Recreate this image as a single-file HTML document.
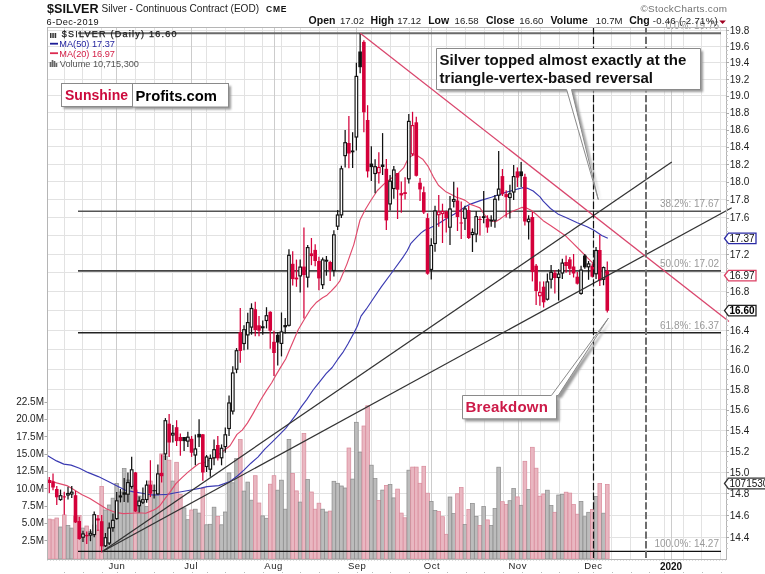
<!DOCTYPE html><html><head><meta charset="utf-8"><style>html,body{margin:0;padding:0;background:#fff;width:765px;height:574px;overflow:hidden}</style></head><body><svg width="765" height="574" viewBox="0 0 765 574" style="display:block;font-family:'Liberation Sans',Arial,sans-serif">
<rect x="0" y="0" width="765" height="574" fill="#fff"/>
<path d="M47 537.50H726M47 515.50H726M47 493.50H726M47 472.50H726M47 451.50H726M47 430.50H726M47 409.50H726M47 389.50H726M47 369.50H726M47 349.50H726M47 330.50H726M47 310.50H726M47 291.50H726M47 272.50H726M47 254.50H726M47 235.50H726M47 217.50H726M47 199.50H726M47 181.50H726M47 164.50H726M47 146.50H726M47 129.50H726M47 112.50H726M47 95.50H726M47 79.50H726M47 62.50H726M47 46.50H726M47 30.50H726M64.50 27V559M82.50 27V559M101.50 27V559M135.50 27V559M154.50 27V559M172.50 27V559M206.50 27V559M225.50 27V559M244.50 27V559M262.50 27V559M281.50 27V559M300.50 27V559M319.50 27V559M337.50 27V559M371.50 27V559M390.50 27V559M409.50 27V559M428.50 27V559M446.50 27V559M465.50 27V559M484.50 27V559M503.50 27V559M521.50 27V559M540.50 27V559M559.50 27V559M578.50 27V559M611.50 27V559M630.50 27V559M664.50 27V559M683.50 27V559M701.50 27V559M720.50 27V559" stroke="#e2e2e2" stroke-width="1" fill="none"/>
<path d="M116.50 27V559M191.50 27V559M274.50 27V559M356.50 27V559M431.50 27V559M518.50 27V559M593.50 27V559M671.50 27V559" stroke="#cccccc" stroke-width="1" fill="none"/>
<g><rect x="47.43" y="519.1" width="3.7" height="39.9" fill="#e9b7c1" stroke="#d98c9c" stroke-width="0.75"/><rect x="51.17" y="519.8" width="3.7" height="39.2" fill="#e9b7c1" stroke="#d98c9c" stroke-width="0.75"/><rect x="54.92" y="518.0" width="3.7" height="41.0" fill="#e9b7c1" stroke="#d98c9c" stroke-width="0.75"/><rect x="58.66" y="527.0" width="3.7" height="32.0" fill="#bcbcbc" stroke="#8e8e8e" stroke-width="0.75"/><rect x="62.41" y="514.9" width="3.7" height="44.1" fill="#e9b7c1" stroke="#d98c9c" stroke-width="0.75"/><rect x="66.16" y="525.4" width="3.7" height="33.6" fill="#bcbcbc" stroke="#8e8e8e" stroke-width="0.75"/><rect x="69.90" y="528.1" width="3.7" height="30.9" fill="#bcbcbc" stroke="#8e8e8e" stroke-width="0.75"/><rect x="73.65" y="516.0" width="3.7" height="43.0" fill="#e9b7c1" stroke="#d98c9c" stroke-width="0.75"/><rect x="77.39" y="515.6" width="3.7" height="43.4" fill="#e9b7c1" stroke="#d98c9c" stroke-width="0.75"/><rect x="81.14" y="528.1" width="3.7" height="30.9" fill="#bcbcbc" stroke="#8e8e8e" stroke-width="0.75"/><rect x="84.88" y="526.0" width="3.7" height="33.0" fill="#e9b7c1" stroke="#d98c9c" stroke-width="0.75"/><rect x="88.62" y="531.6" width="3.7" height="27.4" fill="#bcbcbc" stroke="#8e8e8e" stroke-width="0.75"/><rect x="92.37" y="525.0" width="3.7" height="34.0" fill="#bcbcbc" stroke="#8e8e8e" stroke-width="0.75"/><rect x="96.12" y="530.0" width="3.7" height="29.0" fill="#e9b7c1" stroke="#d98c9c" stroke-width="0.75"/><rect x="99.86" y="486.4" width="3.7" height="72.6" fill="#e9b7c1" stroke="#d98c9c" stroke-width="0.75"/><rect x="103.61" y="510.0" width="3.7" height="49.0" fill="#bcbcbc" stroke="#8e8e8e" stroke-width="0.75"/><rect x="107.35" y="505.0" width="3.7" height="54.0" fill="#bcbcbc" stroke="#8e8e8e" stroke-width="0.75"/><rect x="111.09" y="498.2" width="3.7" height="60.8" fill="#bcbcbc" stroke="#8e8e8e" stroke-width="0.75"/><rect x="114.84" y="483.5" width="3.7" height="75.5" fill="#bcbcbc" stroke="#8e8e8e" stroke-width="0.75"/><rect x="118.59" y="492.0" width="3.7" height="67.0" fill="#bcbcbc" stroke="#8e8e8e" stroke-width="0.75"/><rect x="122.33" y="468.6" width="3.7" height="90.4" fill="#bcbcbc" stroke="#8e8e8e" stroke-width="0.75"/><rect x="126.08" y="480.0" width="3.7" height="79.0" fill="#bcbcbc" stroke="#8e8e8e" stroke-width="0.75"/><rect x="129.82" y="485.0" width="3.7" height="74.0" fill="#bcbcbc" stroke="#8e8e8e" stroke-width="0.75"/><rect x="133.57" y="490.0" width="3.7" height="69.0" fill="#e9b7c1" stroke="#d98c9c" stroke-width="0.75"/><rect x="137.31" y="496.0" width="3.7" height="63.0" fill="#bcbcbc" stroke="#8e8e8e" stroke-width="0.75"/><rect x="141.06" y="501.0" width="3.7" height="58.0" fill="#bcbcbc" stroke="#8e8e8e" stroke-width="0.75"/><rect x="144.80" y="506.5" width="3.7" height="52.5" fill="#bcbcbc" stroke="#8e8e8e" stroke-width="0.75"/><rect x="148.54" y="481.0" width="3.7" height="78.0" fill="#e9b7c1" stroke="#d98c9c" stroke-width="0.75"/><rect x="152.29" y="495.7" width="3.7" height="63.3" fill="#bcbcbc" stroke="#8e8e8e" stroke-width="0.75"/><rect x="156.03" y="485.0" width="3.7" height="74.0" fill="#bcbcbc" stroke="#8e8e8e" stroke-width="0.75"/><rect x="159.78" y="453.9" width="3.7" height="105.1" fill="#e9b7c1" stroke="#d98c9c" stroke-width="0.75"/><rect x="163.53" y="456.0" width="3.7" height="103.0" fill="#bcbcbc" stroke="#8e8e8e" stroke-width="0.75"/><rect x="167.27" y="460.2" width="3.7" height="98.8" fill="#e9b7c1" stroke="#d98c9c" stroke-width="0.75"/><rect x="171.02" y="481.1" width="3.7" height="77.9" fill="#bcbcbc" stroke="#8e8e8e" stroke-width="0.75"/><rect x="174.76" y="462.3" width="3.7" height="96.7" fill="#e9b7c1" stroke="#d98c9c" stroke-width="0.75"/><rect x="178.51" y="494.4" width="3.7" height="64.6" fill="#e9b7c1" stroke="#d98c9c" stroke-width="0.75"/><rect x="182.25" y="507.9" width="3.7" height="51.1" fill="#bcbcbc" stroke="#8e8e8e" stroke-width="0.75"/><rect x="186.00" y="519.7" width="3.7" height="39.3" fill="#bcbcbc" stroke="#8e8e8e" stroke-width="0.75"/><rect x="189.74" y="510.0" width="3.7" height="49.0" fill="#e9b7c1" stroke="#d98c9c" stroke-width="0.75"/><rect x="193.48" y="509.2" width="3.7" height="49.8" fill="#bcbcbc" stroke="#8e8e8e" stroke-width="0.75"/><rect x="197.23" y="513.1" width="3.7" height="45.9" fill="#bcbcbc" stroke="#8e8e8e" stroke-width="0.75"/><rect x="200.97" y="488.4" width="3.7" height="70.6" fill="#e9b7c1" stroke="#d98c9c" stroke-width="0.75"/><rect x="204.72" y="524.8" width="3.7" height="34.2" fill="#bcbcbc" stroke="#8e8e8e" stroke-width="0.75"/><rect x="208.47" y="524.3" width="3.7" height="34.7" fill="#bcbcbc" stroke="#8e8e8e" stroke-width="0.75"/><rect x="212.21" y="507.2" width="3.7" height="51.8" fill="#bcbcbc" stroke="#8e8e8e" stroke-width="0.75"/><rect x="215.96" y="516.5" width="3.7" height="42.5" fill="#e9b7c1" stroke="#d98c9c" stroke-width="0.75"/><rect x="219.70" y="524.8" width="3.7" height="34.2" fill="#bcbcbc" stroke="#8e8e8e" stroke-width="0.75"/><rect x="223.45" y="512.0" width="3.7" height="47.0" fill="#bcbcbc" stroke="#8e8e8e" stroke-width="0.75"/><rect x="227.19" y="472.9" width="3.7" height="86.1" fill="#bcbcbc" stroke="#8e8e8e" stroke-width="0.75"/><rect x="230.94" y="482.8" width="3.7" height="76.2" fill="#bcbcbc" stroke="#8e8e8e" stroke-width="0.75"/><rect x="234.68" y="458.6" width="3.7" height="100.4" fill="#bcbcbc" stroke="#8e8e8e" stroke-width="0.75"/><rect x="238.42" y="439.5" width="3.7" height="119.5" fill="#e9b7c1" stroke="#d98c9c" stroke-width="0.75"/><rect x="242.17" y="491.1" width="3.7" height="67.9" fill="#bcbcbc" stroke="#8e8e8e" stroke-width="0.75"/><rect x="245.91" y="482.1" width="3.7" height="76.9" fill="#bcbcbc" stroke="#8e8e8e" stroke-width="0.75"/><rect x="249.66" y="500.2" width="3.7" height="58.8" fill="#bcbcbc" stroke="#8e8e8e" stroke-width="0.75"/><rect x="253.41" y="475.7" width="3.7" height="83.3" fill="#e9b7c1" stroke="#d98c9c" stroke-width="0.75"/><rect x="257.15" y="503.0" width="3.7" height="56.0" fill="#e9b7c1" stroke="#d98c9c" stroke-width="0.75"/><rect x="260.89" y="515.9" width="3.7" height="43.1" fill="#bcbcbc" stroke="#8e8e8e" stroke-width="0.75"/><rect x="264.64" y="518.3" width="3.7" height="40.7" fill="#bcbcbc" stroke="#8e8e8e" stroke-width="0.75"/><rect x="268.38" y="484.2" width="3.7" height="74.8" fill="#e9b7c1" stroke="#d98c9c" stroke-width="0.75"/><rect x="272.13" y="475.7" width="3.7" height="83.3" fill="#e9b7c1" stroke="#d98c9c" stroke-width="0.75"/><rect x="275.88" y="490.2" width="3.7" height="68.8" fill="#bcbcbc" stroke="#8e8e8e" stroke-width="0.75"/><rect x="279.62" y="480.2" width="3.7" height="78.8" fill="#bcbcbc" stroke="#8e8e8e" stroke-width="0.75"/><rect x="283.37" y="509.2" width="3.7" height="49.8" fill="#bcbcbc" stroke="#8e8e8e" stroke-width="0.75"/><rect x="287.11" y="439.4" width="3.7" height="119.6" fill="#bcbcbc" stroke="#8e8e8e" stroke-width="0.75"/><rect x="290.86" y="473.4" width="3.7" height="85.6" fill="#e9b7c1" stroke="#d98c9c" stroke-width="0.75"/><rect x="294.60" y="490.9" width="3.7" height="68.1" fill="#e9b7c1" stroke="#d98c9c" stroke-width="0.75"/><rect x="298.34" y="502.1" width="3.7" height="56.9" fill="#bcbcbc" stroke="#8e8e8e" stroke-width="0.75"/><rect x="302.09" y="433.4" width="3.7" height="125.6" fill="#e9b7c1" stroke="#d98c9c" stroke-width="0.75"/><rect x="305.83" y="479.4" width="3.7" height="79.6" fill="#bcbcbc" stroke="#8e8e8e" stroke-width="0.75"/><rect x="309.58" y="492.0" width="3.7" height="67.0" fill="#e9b7c1" stroke="#d98c9c" stroke-width="0.75"/><rect x="313.32" y="509.2" width="3.7" height="49.8" fill="#e9b7c1" stroke="#d98c9c" stroke-width="0.75"/><rect x="317.07" y="503.2" width="3.7" height="55.8" fill="#e9b7c1" stroke="#d98c9c" stroke-width="0.75"/><rect x="320.81" y="509.2" width="3.7" height="49.8" fill="#bcbcbc" stroke="#8e8e8e" stroke-width="0.75"/><rect x="324.56" y="512.0" width="3.7" height="47.0" fill="#bcbcbc" stroke="#8e8e8e" stroke-width="0.75"/><rect x="328.31" y="511.1" width="3.7" height="47.9" fill="#e9b7c1" stroke="#d98c9c" stroke-width="0.75"/><rect x="332.05" y="481.3" width="3.7" height="77.7" fill="#bcbcbc" stroke="#8e8e8e" stroke-width="0.75"/><rect x="335.80" y="483.3" width="3.7" height="75.7" fill="#bcbcbc" stroke="#8e8e8e" stroke-width="0.75"/><rect x="339.54" y="486.0" width="3.7" height="73.0" fill="#bcbcbc" stroke="#8e8e8e" stroke-width="0.75"/><rect x="343.29" y="488.0" width="3.7" height="71.0" fill="#bcbcbc" stroke="#8e8e8e" stroke-width="0.75"/><rect x="347.03" y="448.0" width="3.7" height="111.0" fill="#e9b7c1" stroke="#d98c9c" stroke-width="0.75"/><rect x="350.77" y="479.1" width="3.7" height="79.9" fill="#bcbcbc" stroke="#8e8e8e" stroke-width="0.75"/><rect x="354.52" y="422.3" width="3.7" height="136.7" fill="#bcbcbc" stroke="#8e8e8e" stroke-width="0.75"/><rect x="358.26" y="452.2" width="3.7" height="106.8" fill="#bcbcbc" stroke="#8e8e8e" stroke-width="0.75"/><rect x="362.01" y="426.0" width="3.7" height="133.0" fill="#e9b7c1" stroke="#d98c9c" stroke-width="0.75"/><rect x="365.75" y="405.8" width="3.7" height="153.2" fill="#e9b7c1" stroke="#d98c9c" stroke-width="0.75"/><rect x="369.50" y="465.2" width="3.7" height="93.8" fill="#bcbcbc" stroke="#8e8e8e" stroke-width="0.75"/><rect x="373.25" y="478.6" width="3.7" height="80.4" fill="#bcbcbc" stroke="#8e8e8e" stroke-width="0.75"/><rect x="376.99" y="500.6" width="3.7" height="58.4" fill="#e9b7c1" stroke="#d98c9c" stroke-width="0.75"/><rect x="380.74" y="490.1" width="3.7" height="68.9" fill="#bcbcbc" stroke="#8e8e8e" stroke-width="0.75"/><rect x="384.48" y="485.4" width="3.7" height="73.6" fill="#e9b7c1" stroke="#d98c9c" stroke-width="0.75"/><rect x="388.23" y="484.4" width="3.7" height="74.6" fill="#bcbcbc" stroke="#8e8e8e" stroke-width="0.75"/><rect x="391.97" y="497.9" width="3.7" height="61.1" fill="#bcbcbc" stroke="#8e8e8e" stroke-width="0.75"/><rect x="395.71" y="489.1" width="3.7" height="69.9" fill="#e9b7c1" stroke="#d98c9c" stroke-width="0.75"/><rect x="399.46" y="513.1" width="3.7" height="45.9" fill="#e9b7c1" stroke="#d98c9c" stroke-width="0.75"/><rect x="403.20" y="517.8" width="3.7" height="41.2" fill="#e9b7c1" stroke="#d98c9c" stroke-width="0.75"/><rect x="406.95" y="470.2" width="3.7" height="88.8" fill="#bcbcbc" stroke="#8e8e8e" stroke-width="0.75"/><rect x="410.69" y="467.1" width="3.7" height="91.9" fill="#e9b7c1" stroke="#d98c9c" stroke-width="0.75"/><rect x="414.44" y="467.1" width="3.7" height="91.9" fill="#e9b7c1" stroke="#d98c9c" stroke-width="0.75"/><rect x="418.19" y="483.3" width="3.7" height="75.7" fill="#e9b7c1" stroke="#d98c9c" stroke-width="0.75"/><rect x="421.93" y="466.3" width="3.7" height="92.7" fill="#e9b7c1" stroke="#d98c9c" stroke-width="0.75"/><rect x="425.68" y="493.2" width="3.7" height="65.8" fill="#e9b7c1" stroke="#d98c9c" stroke-width="0.75"/><rect x="429.42" y="501.4" width="3.7" height="57.6" fill="#bcbcbc" stroke="#8e8e8e" stroke-width="0.75"/><rect x="433.17" y="510.5" width="3.7" height="48.5" fill="#bcbcbc" stroke="#8e8e8e" stroke-width="0.75"/><rect x="436.91" y="511.5" width="3.7" height="47.5" fill="#e9b7c1" stroke="#d98c9c" stroke-width="0.75"/><rect x="440.65" y="516.7" width="3.7" height="42.3" fill="#e9b7c1" stroke="#d98c9c" stroke-width="0.75"/><rect x="444.40" y="534.3" width="3.7" height="24.7" fill="#e9b7c1" stroke="#d98c9c" stroke-width="0.75"/><rect x="448.14" y="497.0" width="3.7" height="62.0" fill="#bcbcbc" stroke="#8e8e8e" stroke-width="0.75"/><rect x="451.89" y="513.6" width="3.7" height="45.4" fill="#bcbcbc" stroke="#8e8e8e" stroke-width="0.75"/><rect x="455.63" y="493.8" width="3.7" height="65.2" fill="#e9b7c1" stroke="#d98c9c" stroke-width="0.75"/><rect x="459.38" y="487.6" width="3.7" height="71.4" fill="#e9b7c1" stroke="#d98c9c" stroke-width="0.75"/><rect x="463.12" y="524.6" width="3.7" height="34.4" fill="#bcbcbc" stroke="#8e8e8e" stroke-width="0.75"/><rect x="466.87" y="509.5" width="3.7" height="49.5" fill="#e9b7c1" stroke="#d98c9c" stroke-width="0.75"/><rect x="470.62" y="503.4" width="3.7" height="55.6" fill="#bcbcbc" stroke="#8e8e8e" stroke-width="0.75"/><rect x="474.36" y="516.4" width="3.7" height="42.6" fill="#bcbcbc" stroke="#8e8e8e" stroke-width="0.75"/><rect x="478.11" y="525.4" width="3.7" height="33.6" fill="#e9b7c1" stroke="#d98c9c" stroke-width="0.75"/><rect x="481.85" y="506.5" width="3.7" height="52.5" fill="#bcbcbc" stroke="#8e8e8e" stroke-width="0.75"/><rect x="485.60" y="519.9" width="3.7" height="39.1" fill="#e9b7c1" stroke="#d98c9c" stroke-width="0.75"/><rect x="489.34" y="525.4" width="3.7" height="33.6" fill="#bcbcbc" stroke="#8e8e8e" stroke-width="0.75"/><rect x="493.08" y="508.6" width="3.7" height="50.4" fill="#bcbcbc" stroke="#8e8e8e" stroke-width="0.75"/><rect x="496.83" y="467.2" width="3.7" height="91.8" fill="#bcbcbc" stroke="#8e8e8e" stroke-width="0.75"/><rect x="500.57" y="501.7" width="3.7" height="57.3" fill="#e9b7c1" stroke="#d98c9c" stroke-width="0.75"/><rect x="504.32" y="504.4" width="3.7" height="54.6" fill="#e9b7c1" stroke="#d98c9c" stroke-width="0.75"/><rect x="508.06" y="500.7" width="3.7" height="58.3" fill="#bcbcbc" stroke="#8e8e8e" stroke-width="0.75"/><rect x="511.81" y="488.5" width="3.7" height="70.5" fill="#bcbcbc" stroke="#8e8e8e" stroke-width="0.75"/><rect x="515.55" y="496.9" width="3.7" height="62.1" fill="#e9b7c1" stroke="#d98c9c" stroke-width="0.75"/><rect x="519.30" y="505.3" width="3.7" height="53.7" fill="#bcbcbc" stroke="#8e8e8e" stroke-width="0.75"/><rect x="523.04" y="461.3" width="3.7" height="97.7" fill="#e9b7c1" stroke="#d98c9c" stroke-width="0.75"/><rect x="526.79" y="489.6" width="3.7" height="69.4" fill="#bcbcbc" stroke="#8e8e8e" stroke-width="0.75"/><rect x="530.53" y="447.3" width="3.7" height="111.7" fill="#e9b7c1" stroke="#d98c9c" stroke-width="0.75"/><rect x="534.28" y="468.2" width="3.7" height="90.8" fill="#e9b7c1" stroke="#d98c9c" stroke-width="0.75"/><rect x="538.02" y="496.2" width="3.7" height="62.8" fill="#e9b7c1" stroke="#d98c9c" stroke-width="0.75"/><rect x="541.77" y="494.0" width="3.7" height="65.0" fill="#e9b7c1" stroke="#d98c9c" stroke-width="0.75"/><rect x="545.51" y="490.2" width="3.7" height="68.8" fill="#bcbcbc" stroke="#8e8e8e" stroke-width="0.75"/><rect x="549.26" y="505.5" width="3.7" height="53.5" fill="#bcbcbc" stroke="#8e8e8e" stroke-width="0.75"/><rect x="553.00" y="512.3" width="3.7" height="46.7" fill="#e9b7c1" stroke="#d98c9c" stroke-width="0.75"/><rect x="556.75" y="495.0" width="3.7" height="64.0" fill="#bcbcbc" stroke="#8e8e8e" stroke-width="0.75"/><rect x="560.49" y="494.5" width="3.7" height="64.5" fill="#bcbcbc" stroke="#8e8e8e" stroke-width="0.75"/><rect x="564.24" y="492.2" width="3.7" height="66.8" fill="#e9b7c1" stroke="#d98c9c" stroke-width="0.75"/><rect x="567.98" y="493.1" width="3.7" height="65.9" fill="#e9b7c1" stroke="#d98c9c" stroke-width="0.75"/><rect x="571.73" y="504.6" width="3.7" height="54.4" fill="#e9b7c1" stroke="#d98c9c" stroke-width="0.75"/><rect x="575.47" y="514.2" width="3.7" height="44.8" fill="#e9b7c1" stroke="#d98c9c" stroke-width="0.75"/><rect x="579.22" y="501.4" width="3.7" height="57.6" fill="#bcbcbc" stroke="#8e8e8e" stroke-width="0.75"/><rect x="582.96" y="516.7" width="3.7" height="42.3" fill="#bcbcbc" stroke="#8e8e8e" stroke-width="0.75"/><rect x="586.71" y="512.3" width="3.7" height="46.7" fill="#bcbcbc" stroke="#8e8e8e" stroke-width="0.75"/><rect x="590.45" y="509.4" width="3.7" height="49.6" fill="#e9b7c1" stroke="#d98c9c" stroke-width="0.75"/><rect x="594.20" y="496.4" width="3.7" height="62.6" fill="#bcbcbc" stroke="#8e8e8e" stroke-width="0.75"/><rect x="597.94" y="483.5" width="3.7" height="75.5" fill="#e9b7c1" stroke="#d98c9c" stroke-width="0.75"/><rect x="601.69" y="513.2" width="3.7" height="45.8" fill="#bcbcbc" stroke="#8e8e8e" stroke-width="0.75"/><rect x="605.43" y="484.5" width="3.7" height="74.5" fill="#e9b7c1" stroke="#d98c9c" stroke-width="0.75"/></g>
<path d="M78 33.2H721" stroke="#6a6a6a" stroke-width="2"/>
<path d="M78 211.2H721" stroke="#555" stroke-width="1.6"/>
<path d="M78 270.9H721" stroke="#444" stroke-width="1.6"/>
<path d="M78 332.8H721" stroke="#222" stroke-width="1.4"/>
<path d="M78 551.4H721" stroke="#111" stroke-width="1.3"/>
<text x="719" y="29.2" text-anchor="end" font-size="10" fill="#9a9a9a">0.0%: 19.76</text>
<text x="719" y="207.2" text-anchor="end" font-size="10" fill="#9a9a9a">38.2%: 17.67</text>
<text x="719" y="266.9" text-anchor="end" font-size="10" fill="#9a9a9a">50.0%: 17.02</text>
<text x="719" y="328.8" text-anchor="end" font-size="10" fill="#9a9a9a">61.8%: 16.37</text>
<text x="719" y="547.4" text-anchor="end" font-size="10" fill="#9a9a9a">100.0%: 14.27</text>
<path d="M47.7 455.7 L56.5 460.9 L63.8 464.1 L71.1 465.1 L79.5 468.2 L87.8 472.4 L98.3 476.6 L108.8 481.8 L117.1 486.0 L125.5 490.2 L133.9 491.9 L142.2 493.3 L150.6 494.8 L159.0 494.8 L167.3 494.4 L175.7 492.7 L184.1 491.3 L192.4 489.8 L200.8 488.1 L207.1 486.6 L218.8 485.6 L230.0 481.5 L237.0 476.2 L243.9 470.1 L250.9 463.2 L257.9 457.1 L264.8 449.2 L271.8 442.3 L278.8 435.3 L285.7 428.3 L291.0 421.4 L296.2 414.4 L301.4 406.6 L306.7 399.6 L313.1 390.0 L319.2 382.3 L326.1 373.6 L332.2 367.5 L337.5 359.7 L342.7 352.7 L347.9 344.0 L354.0 332.7 L357.5 325.7 L361.0 316.1 L366.2 309.2 L373.2 298.7 L381.3 286.9 L393.0 271.0 L403.6 256.3 L407.2 250.7 L410.7 243.7 L414.2 239.8 L417.6 236.3 L421.1 232.9 L424.6 230.2 L429.8 228.1 L435.1 225.5 L440.3 222.4 L445.0 219.4 L449.5 216.8 L454.1 214.3 L460.0 210.4 L465.2 206.8 L470.5 204.1 L480.9 200.4 L491.4 197.3 L501.8 193.6 L512.3 190.5 L522.8 187.6 L528.0 188.4 L533.2 191.0 L540.0 196.9 L543.2 201.2 L550.5 208.5 L557.8 213.9 L567.6 218.3 L577.3 222.7 L587.1 226.8 L594.4 230.5 L601.7 235.4 L607.8 238.3" stroke="#3a3ab2" stroke-width="1.15" fill="none" stroke-linejoin="round"/>
<path d="M47.7 479.7 L56.5 482.9 L66.9 485.6 L73.2 489.2 L81.6 494.4 L89.9 498.6 L98.3 503.8 L106.7 509.0 L115.0 512.2 L123.4 513.6 L131.8 513.2 L138.0 512.8 L145.8 513.2 L152.8 510.4 L156.5 508.5 L160.0 505.5 L163.7 500.3 L169.8 492.3 L175.9 483.7 L182.0 477.6 L188.0 472.1 L194.1 467.2 L199.0 463.5 L204.4 462.6 L212.7 458.4 L221.1 452.8 L230.0 445.7 L237.0 434.4 L242.2 430.1 L247.4 423.1 L252.6 414.4 L260.6 400.0 L266.1 391.1 L271.7 382.7 L275.2 376.4 L280.1 368.1 L285.7 359.0 L289.8 349.3 L294.0 339.5 L298.2 329.8 L303.8 320.3 L310.5 309.2 L316.6 302.2 L322.6 297.8 L327.0 295.2 L331.4 290.9 L336.0 286.0 L339.9 280.8 L346.9 264.1 L353.8 244.6 L360.0 220.0 L365.2 209.7 L370.5 201.0 L377.4 190.5 L384.4 183.6 L391.4 178.3 L398.3 173.1 L403.6 167.9 L407.0 160.9 L410.5 156.6 L414.0 154.8 L417.5 155.7 L422.7 159.2 L427.9 166.1 L433.2 176.6 L438.4 185.3 L445.4 191.4 L452.3 194.9 L456.5 197.3 L460.0 198.3 L465.2 200.4 L470.5 204.4 L475.7 206.2 L479.9 207.9 L484.1 214.3 L488.2 218.7 L492.4 221.3 L495.6 221.8 L499.7 219.2 L503.9 216.1 L508.1 213.5 L512.3 211.4 L517.5 209.3 L521.7 207.4 L525.9 207.7 L531.1 210.3 L536.4 214.5 L543.2 220.7 L550.5 225.6 L557.8 230.5 L565.1 235.4 L572.4 242.7 L579.8 250.0 L587.1 257.3 L594.4 264.6 L601.7 270.7 L607.8 273.2" stroke="#e04a6c" stroke-width="1.15" fill="none" stroke-linejoin="round"/>
<g><path d="M49.28 477.0V493.0" stroke="#d4003a" stroke-width="1.25"/><rect x="47.48" y="480.0" width="3.6" height="3.0" fill="#d4003a"/><path d="M53.02 473.6V490.3" stroke="#d4003a" stroke-width="1.25"/><rect x="51.23" y="481.5" width="3.6" height="6.0" fill="#d4003a"/><path d="M56.77 486.0V505.0" stroke="#d4003a" stroke-width="1.25"/><rect x="54.97" y="489.0" width="3.6" height="8.3" fill="#d4003a"/><path d="M60.52 489.6V500.8" stroke="#111" stroke-width="1.25"/><rect x="59.22" y="495.7" width="2.6" height="3.8" fill="#fff" stroke="#111" stroke-width="1.15"/><path d="M64.26 491.7V514.7" stroke="#d4003a" stroke-width="1.25"/><rect x="62.46" y="496.4" width="3.6" height="1.0" fill="#d4003a"/><path d="M68.00 486.8V499.4" stroke="#111" stroke-width="1.25"/><rect x="66.70" y="493.5" width="2.6" height="1.5" fill="#fff" stroke="#111" stroke-width="1.15"/><path d="M71.75 486.0V498.0" stroke="#111" stroke-width="1.25"/><rect x="70.45" y="492.2" width="2.6" height="1.8" fill="#fff" stroke="#111" stroke-width="1.15"/><path d="M75.50 491.0V523.0" stroke="#d4003a" stroke-width="1.25"/><rect x="73.70" y="495.2" width="3.6" height="27.2" fill="#d4003a"/><path d="M79.24 516.8V539.8" stroke="#d4003a" stroke-width="1.25"/><rect x="77.44" y="521.0" width="3.6" height="18.0" fill="#d4003a"/><path d="M82.98 530.7V541.9" stroke="#111" stroke-width="1.25"/><rect x="81.69" y="534.0" width="2.6" height="3.2" fill="#fff" stroke="#111" stroke-width="1.15"/><path d="M86.73 531.4V544.0" stroke="#d4003a" stroke-width="1.25"/><rect x="84.93" y="534.9" width="3.6" height="1.4" fill="#d4003a"/><path d="M90.47 529.3V541.2" stroke="#111" stroke-width="1.25"/><rect x="89.17" y="533.3" width="2.6" height="1.8" fill="#fff" stroke="#111" stroke-width="1.15"/><path d="M94.22 511.4V537.2" stroke="#111" stroke-width="1.25"/><rect x="92.92" y="514.7" width="2.6" height="19.9" fill="#fff" stroke="#111" stroke-width="1.15"/><path d="M97.97 515.0V531.0" stroke="#d4003a" stroke-width="1.25"/><rect x="96.17" y="518.4" width="3.6" height="2.1" fill="#d4003a"/><path d="M101.71 515.0V552.6" stroke="#d4003a" stroke-width="1.25"/><rect x="99.91" y="521.2" width="3.6" height="25.1" fill="#d4003a"/><path d="M105.45 533.0V547.0" stroke="#111" stroke-width="1.25"/><rect x="104.16" y="537.7" width="2.6" height="8.1" fill="#fff" stroke="#111" stroke-width="1.15"/><path d="M109.20 522.6V545.0" stroke="#111" stroke-width="1.25"/><rect x="107.90" y="528.0" width="2.6" height="15.0" fill="#fff" stroke="#111" stroke-width="1.15"/><path d="M112.94 513.5V531.7" stroke="#111" stroke-width="1.25"/><rect x="111.64" y="520.3" width="2.6" height="7.4" fill="#fff" stroke="#111" stroke-width="1.15"/><path d="M116.69 492.0V519.8" stroke="#111" stroke-width="1.25"/><rect x="115.39" y="500.8" width="2.6" height="17.8" fill="#fff" stroke="#111" stroke-width="1.15"/><path d="M120.44 489.0V502.4" stroke="#111" stroke-width="1.25"/><rect x="118.64" y="495.4" width="3.6" height="2.1" fill="#111"/><path d="M124.18 478.0V502.0" stroke="#111" stroke-width="1.25"/><rect x="122.38" y="492.3" width="3.6" height="2.4" fill="#111"/><path d="M127.92 472.4V502.4" stroke="#111" stroke-width="1.25"/><rect x="126.62" y="482.6" width="2.6" height="11.6" fill="#fff" stroke="#111" stroke-width="1.15"/><path d="M131.67 456.7V488.8" stroke="#111" stroke-width="1.25"/><rect x="130.37" y="469.8" width="2.6" height="16.7" fill="#fff" stroke="#111" stroke-width="1.15"/><path d="M135.42 472.0V512.0" stroke="#d4003a" stroke-width="1.25"/><rect x="133.62" y="472.4" width="3.6" height="39.1" fill="#d4003a"/><path d="M139.16 496.4V512.5" stroke="#111" stroke-width="1.25"/><rect x="137.86" y="501.1" width="2.6" height="4.6" fill="#fff" stroke="#111" stroke-width="1.15"/><path d="M142.91 487.4V504.0" stroke="#111" stroke-width="1.25"/><rect x="141.60" y="499.7" width="2.6" height="2.5" fill="#fff" stroke="#111" stroke-width="1.15"/><path d="M146.65 480.4V502.7" stroke="#111" stroke-width="1.25"/><rect x="145.35" y="485.1" width="2.6" height="14.4" fill="#fff" stroke="#111" stroke-width="1.15"/><path d="M150.39 460.2V497.1" stroke="#d4003a" stroke-width="1.25"/><rect x="148.59" y="484.6" width="3.6" height="9.1" fill="#d4003a"/><path d="M154.14 484.6V498.5" stroke="#111" stroke-width="1.25"/><rect x="152.34" y="490.2" width="3.6" height="1.0" fill="#111"/><path d="M157.88 464.4V494.4" stroke="#111" stroke-width="1.25"/><rect x="156.58" y="473.9" width="2.6" height="20.0" fill="#fff" stroke="#111" stroke-width="1.15"/><path d="M161.63 454.6V482.5" stroke="#d4003a" stroke-width="1.25"/><rect x="159.83" y="472.8" width="3.6" height="3.4" fill="#d4003a"/><path d="M165.38 418.1V460.0" stroke="#111" stroke-width="1.25"/><rect x="164.07" y="420.7" width="2.6" height="33.2" fill="#fff" stroke="#111" stroke-width="1.15"/><path d="M169.12 414.0V457.0" stroke="#d4003a" stroke-width="1.25"/><rect x="167.32" y="423.7" width="3.6" height="18.8" fill="#d4003a"/><path d="M172.87 425.0V442.5" stroke="#111" stroke-width="1.25"/><rect x="171.56" y="433.3" width="2.6" height="1.7" fill="#fff" stroke="#111" stroke-width="1.15"/><path d="M176.61 420.2V446.0" stroke="#d4003a" stroke-width="1.25"/><rect x="174.81" y="427.2" width="3.6" height="13.9" fill="#d4003a"/><path d="M180.36 433.4V455.7" stroke="#d4003a" stroke-width="1.25"/><rect x="178.56" y="437.0" width="3.6" height="4.1" fill="#d4003a"/><path d="M184.10 437.0V450.9" stroke="#111" stroke-width="1.25"/><rect x="182.30" y="437.0" width="3.6" height="4.1" fill="#111"/><path d="M187.85 431.8V447.1" stroke="#111" stroke-width="1.25"/><rect x="186.55" y="437.2" width="2.6" height="3.9" fill="#fff" stroke="#111" stroke-width="1.15"/><path d="M191.59 436.0V456.9" stroke="#d4003a" stroke-width="1.25"/><rect x="189.79" y="438.8" width="3.6" height="13.9" fill="#d4003a"/><path d="M195.33 434.6V465.3" stroke="#111" stroke-width="1.25"/><rect x="194.03" y="449.0" width="2.6" height="6.0" fill="#fff" stroke="#111" stroke-width="1.15"/><path d="M199.08 419.3V447.1" stroke="#111" stroke-width="1.25"/><rect x="197.28" y="433.9" width="3.6" height="3.5" fill="#111"/><path d="M202.82 434.0V480.8" stroke="#d4003a" stroke-width="1.25"/><rect x="201.02" y="434.3" width="3.6" height="38.2" fill="#d4003a"/><path d="M206.57 455.0V472.0" stroke="#111" stroke-width="1.25"/><rect x="205.27" y="457.0" width="2.6" height="9.5" fill="#fff" stroke="#111" stroke-width="1.15"/><path d="M210.31 454.4V476.7" stroke="#111" stroke-width="1.25"/><rect x="209.01" y="458.4" width="2.6" height="10.8" fill="#fff" stroke="#111" stroke-width="1.15"/><path d="M214.06 439.5V465.3" stroke="#111" stroke-width="1.25"/><rect x="212.76" y="449.7" width="2.6" height="8.1" fill="#fff" stroke="#111" stroke-width="1.15"/><path d="M217.81 436.0V460.4" stroke="#d4003a" stroke-width="1.25"/><rect x="216.00" y="445.0" width="3.6" height="13.3" fill="#d4003a"/><path d="M221.55 444.4V465.3" stroke="#111" stroke-width="1.25"/><rect x="220.25" y="448.3" width="2.6" height="9.5" fill="#fff" stroke="#111" stroke-width="1.15"/><path d="M225.30 427.6V452.7" stroke="#111" stroke-width="1.25"/><rect x="224.00" y="434.8" width="2.6" height="11.8" fill="#fff" stroke="#111" stroke-width="1.15"/><path d="M229.04 395.6V436.0" stroke="#111" stroke-width="1.25"/><rect x="227.74" y="403.0" width="2.6" height="25.5" fill="#fff" stroke="#111" stroke-width="1.15"/><path d="M232.79 366.2V414.4" stroke="#111" stroke-width="1.25"/><rect x="231.49" y="373.0" width="2.6" height="38.1" fill="#fff" stroke="#111" stroke-width="1.15"/><path d="M236.53 348.1V373.2" stroke="#111" stroke-width="1.25"/><rect x="235.23" y="350.7" width="2.6" height="18.5" fill="#fff" stroke="#111" stroke-width="1.15"/><path d="M240.27 308.0V362.8" stroke="#d4003a" stroke-width="1.25"/><rect x="238.47" y="332.3" width="3.6" height="18.6" fill="#d4003a"/><path d="M244.02 325.3V350.2" stroke="#111" stroke-width="1.25"/><rect x="242.72" y="329.7" width="2.6" height="13.8" fill="#fff" stroke="#111" stroke-width="1.15"/><path d="M247.76 312.7V349.5" stroke="#111" stroke-width="1.25"/><rect x="246.46" y="322.6" width="2.6" height="12.3" fill="#fff" stroke="#111" stroke-width="1.15"/><path d="M251.51 303.3V334.7" stroke="#111" stroke-width="1.25"/><rect x="250.21" y="308.5" width="2.6" height="18.6" fill="#fff" stroke="#111" stroke-width="1.15"/><path d="M255.25 301.7V336.2" stroke="#d4003a" stroke-width="1.25"/><rect x="253.45" y="309.3" width="3.6" height="20.7" fill="#d4003a"/><path d="M259.00 315.9V336.2" stroke="#d4003a" stroke-width="1.25"/><rect x="257.20" y="325.3" width="3.6" height="5.4" fill="#d4003a"/><path d="M262.75 320.6V334.7" stroke="#111" stroke-width="1.25"/><rect x="261.44" y="326.8" width="2.6" height="0.9" fill="#fff" stroke="#111" stroke-width="1.15"/><path d="M266.49 307.2V328.4" stroke="#111" stroke-width="1.25"/><rect x="265.19" y="315.7" width="2.6" height="4.8" fill="#fff" stroke="#111" stroke-width="1.15"/><path d="M270.24 311.2V348.8" stroke="#d4003a" stroke-width="1.25"/><rect x="268.44" y="311.8" width="3.6" height="18.9" fill="#d4003a"/><path d="M273.98 330.7V376.0" stroke="#d4003a" stroke-width="1.25"/><rect x="272.18" y="341.8" width="3.6" height="11.2" fill="#d4003a"/><path d="M277.73 332.0V365.5" stroke="#111" stroke-width="1.25"/><rect x="275.93" y="334.8" width="3.6" height="7.7" fill="#111"/><path d="M281.47 312.5V356.4" stroke="#111" stroke-width="1.25"/><rect x="280.17" y="331.9" width="2.6" height="11.5" fill="#fff" stroke="#111" stroke-width="1.15"/><path d="M285.22 318.1V333.4" stroke="#111" stroke-width="1.25"/><rect x="283.92" y="325.6" width="2.6" height="1.1" fill="#fff" stroke="#111" stroke-width="1.15"/><path d="M288.96 249.2V326.5" stroke="#111" stroke-width="1.25"/><rect x="287.66" y="255.3" width="2.6" height="70.0" fill="#fff" stroke="#111" stroke-width="1.15"/><path d="M292.71 251.3V285.4" stroke="#d4003a" stroke-width="1.25"/><rect x="290.91" y="263.8" width="3.6" height="15.3" fill="#d4003a"/><path d="M296.45 259.6V286.8" stroke="#d4003a" stroke-width="1.25"/><rect x="294.65" y="277.6" width="3.6" height="1.8" fill="#d4003a"/><path d="M300.19 259.6V292.4" stroke="#111" stroke-width="1.25"/><rect x="298.89" y="267.1" width="2.6" height="8.8" fill="#fff" stroke="#111" stroke-width="1.15"/><path d="M303.94 227.6V318.5" stroke="#d4003a" stroke-width="1.25"/><rect x="302.14" y="266.6" width="3.6" height="8.4" fill="#d4003a"/><path d="M307.69 245.0V287.5" stroke="#111" stroke-width="1.25"/><rect x="306.38" y="247.6" width="2.6" height="29.6" fill="#fff" stroke="#111" stroke-width="1.15"/><path d="M311.43 238.0V265.2" stroke="#d4003a" stroke-width="1.25"/><rect x="309.63" y="253.4" width="3.6" height="2.7" fill="#d4003a"/><path d="M315.18 244.3V266.3" stroke="#d4003a" stroke-width="1.25"/><rect x="313.38" y="249.9" width="3.6" height="11.1" fill="#d4003a"/><path d="M318.92 256.8V290.3" stroke="#d4003a" stroke-width="1.25"/><rect x="317.12" y="261.0" width="3.6" height="17.4" fill="#d4003a"/><path d="M322.67 257.6V289.0" stroke="#111" stroke-width="1.25"/><rect x="321.37" y="259.9" width="2.6" height="24.8" fill="#fff" stroke="#111" stroke-width="1.15"/><path d="M326.41 256.0V275.7" stroke="#111" stroke-width="1.25"/><rect x="325.11" y="260.3" width="2.6" height="0.8" fill="#fff" stroke="#111" stroke-width="1.15"/><path d="M330.16 260.8V281.1" stroke="#d4003a" stroke-width="1.25"/><rect x="328.36" y="262.0" width="3.6" height="7.9" fill="#d4003a"/><path d="M333.90 230.2V276.4" stroke="#111" stroke-width="1.25"/><rect x="332.60" y="234.9" width="2.6" height="35.6" fill="#fff" stroke="#111" stroke-width="1.15"/><path d="M337.65 210.0V230.0" stroke="#111" stroke-width="1.25"/><rect x="336.35" y="215.0" width="2.6" height="11.2" fill="#fff" stroke="#111" stroke-width="1.15"/><path d="M341.39 165.7V218.0" stroke="#111" stroke-width="1.25"/><rect x="340.09" y="168.8" width="2.6" height="46.1" fill="#fff" stroke="#111" stroke-width="1.15"/><path d="M345.14 130.0V167.5" stroke="#111" stroke-width="1.25"/><rect x="343.84" y="142.7" width="2.6" height="12.9" fill="#fff" stroke="#111" stroke-width="1.15"/><path d="M348.88 116.0V168.3" stroke="#d4003a" stroke-width="1.25"/><rect x="347.08" y="143.0" width="3.6" height="10.5" fill="#d4003a"/><path d="M352.62 132.2V168.0" stroke="#111" stroke-width="1.25"/><rect x="350.82" y="150.5" width="3.6" height="1.8" fill="#111"/><path d="M356.37 62.8V150.5" stroke="#111" stroke-width="1.25"/><rect x="355.07" y="76.4" width="2.6" height="60.6" fill="#fff" stroke="#111" stroke-width="1.15"/><path d="M360.12 33.2V73.3" stroke="#111" stroke-width="1.25"/><rect x="358.31" y="51.5" width="3.6" height="15.7" fill="#111"/><path d="M363.86 40.2V132.2" stroke="#d4003a" stroke-width="1.25"/><rect x="362.06" y="41.9" width="3.6" height="70.4" fill="#d4003a"/><path d="M367.61 105.2V177.5" stroke="#d4003a" stroke-width="1.25"/><rect x="365.81" y="120.0" width="3.6" height="51.4" fill="#d4003a"/><path d="M371.35 146.2V181.0" stroke="#111" stroke-width="1.25"/><rect x="369.55" y="163.6" width="3.6" height="3.5" fill="#111"/><path d="M375.10 159.2V193.2" stroke="#111" stroke-width="1.25"/><rect x="373.80" y="166.7" width="2.6" height="6.8" fill="#fff" stroke="#111" stroke-width="1.15"/><path d="M378.84 152.3V183.6" stroke="#d4003a" stroke-width="1.25"/><rect x="377.54" y="167.5" width="2.6" height="5.2" fill="#fff" stroke="#d4003a" stroke-width="1.15"/><path d="M382.59 133.1V175.0" stroke="#111" stroke-width="1.25"/><rect x="380.79" y="164.5" width="3.6" height="2.5" fill="#111"/><path d="M386.33 159.0V230.0" stroke="#d4003a" stroke-width="1.25"/><rect x="384.53" y="168.8" width="3.6" height="51.6" fill="#d4003a"/><path d="M390.08 175.0V210.6" stroke="#111" stroke-width="1.25"/><rect x="388.78" y="181.2" width="2.6" height="22.7" fill="#fff" stroke="#111" stroke-width="1.15"/><path d="M393.82 166.0V198.8" stroke="#111" stroke-width="1.25"/><rect x="392.52" y="170.0" width="2.6" height="18.5" fill="#fff" stroke="#111" stroke-width="1.15"/><path d="M397.56 173.0V219.0" stroke="#d4003a" stroke-width="1.25"/><rect x="395.76" y="173.0" width="3.6" height="16.7" fill="#d4003a"/><path d="M401.31 181.4V212.7" stroke="#d4003a" stroke-width="1.25"/><rect x="400.01" y="193.7" width="2.6" height="1.1" fill="#fff" stroke="#d4003a" stroke-width="1.15"/><path d="M405.06 177.2V199.5" stroke="#d4003a" stroke-width="1.25"/><rect x="403.25" y="192.2" width="3.6" height="1.8" fill="#d4003a"/><path d="M408.80 113.9V183.4" stroke="#111" stroke-width="1.25"/><rect x="407.50" y="121.4" width="2.6" height="57.4" fill="#fff" stroke="#111" stroke-width="1.15"/><path d="M412.55 111.8V156.0" stroke="#d4003a" stroke-width="1.25"/><rect x="411.25" y="125.6" width="2.6" height="28.3" fill="#fff" stroke="#d4003a" stroke-width="1.15"/><path d="M416.29 116.7V176.5" stroke="#d4003a" stroke-width="1.25"/><rect x="414.49" y="122.3" width="3.6" height="53.5" fill="#d4003a"/><path d="M420.04 177.9V200.9" stroke="#d4003a" stroke-width="1.25"/><rect x="418.24" y="182.7" width="3.6" height="6.7" fill="#d4003a"/><path d="M423.78 186.5V214.0" stroke="#d4003a" stroke-width="1.25"/><rect x="421.98" y="192.2" width="3.6" height="20.2" fill="#d4003a"/><path d="M427.53 213.3V274.7" stroke="#d4003a" stroke-width="1.25"/><rect x="425.73" y="218.1" width="3.6" height="55.6" fill="#d4003a"/><path d="M431.27 238.2V279.4" stroke="#111" stroke-width="1.25"/><rect x="429.97" y="245.5" width="2.6" height="23.9" fill="#fff" stroke="#111" stroke-width="1.15"/><path d="M435.02 205.7V251.7" stroke="#111" stroke-width="1.25"/><rect x="433.72" y="211.0" width="2.6" height="32.5" fill="#fff" stroke="#111" stroke-width="1.15"/><path d="M438.76 195.0V226.7" stroke="#d4003a" stroke-width="1.25"/><rect x="437.46" y="211.9" width="2.6" height="2.8" fill="#fff" stroke="#d4003a" stroke-width="1.15"/><path d="M442.50 203.7V243.0" stroke="#d4003a" stroke-width="1.25"/><rect x="441.20" y="211.5" width="2.6" height="2.0" fill="#fff" stroke="#d4003a" stroke-width="1.15"/><path d="M446.25 210.5V232.5" stroke="#d4003a" stroke-width="1.25"/><rect x="444.45" y="211.4" width="3.6" height="6.7" fill="#d4003a"/><path d="M450.00 196.0V245.0" stroke="#111" stroke-width="1.25"/><rect x="448.69" y="209.0" width="2.6" height="18.2" fill="#fff" stroke="#111" stroke-width="1.15"/><path d="M453.74 181.7V207.6" stroke="#111" stroke-width="1.25"/><rect x="452.44" y="199.5" width="2.6" height="1.8" fill="#fff" stroke="#111" stroke-width="1.15"/><path d="M457.49 187.5V231.0" stroke="#d4003a" stroke-width="1.25"/><rect x="455.69" y="200.5" width="3.6" height="16.5" fill="#d4003a"/><path d="M461.23 201.4V238.9" stroke="#d4003a" stroke-width="1.25"/><rect x="459.43" y="222.5" width="3.6" height="1.0" fill="#d4003a"/><path d="M464.98 205.7V230.0" stroke="#111" stroke-width="1.25"/><rect x="463.68" y="208.9" width="2.6" height="9.4" fill="#fff" stroke="#111" stroke-width="1.15"/><path d="M468.72 205.7V238.9" stroke="#d4003a" stroke-width="1.25"/><rect x="466.92" y="210.1" width="3.6" height="27.9" fill="#d4003a"/><path d="M472.47 228.4V252.0" stroke="#111" stroke-width="1.25"/><rect x="471.17" y="232.5" width="2.6" height="2.0" fill="#fff" stroke="#111" stroke-width="1.15"/><path d="M476.21 211.0V242.3" stroke="#111" stroke-width="1.25"/><rect x="474.91" y="216.7" width="2.6" height="17.3" fill="#fff" stroke="#111" stroke-width="1.15"/><path d="M479.96 216.2V235.4" stroke="#d4003a" stroke-width="1.25"/><rect x="478.16" y="219.0" width="3.6" height="1.0" fill="#d4003a"/><path d="M483.70 191.0V223.2" stroke="#111" stroke-width="1.25"/><rect x="481.90" y="216.2" width="3.6" height="1.8" fill="#111"/><path d="M487.45 215.3V232.8" stroke="#d4003a" stroke-width="1.25"/><rect x="485.65" y="218.8" width="3.6" height="8.7" fill="#d4003a"/><path d="M491.19 215.3V226.7" stroke="#111" stroke-width="1.25"/><rect x="489.89" y="220.2" width="2.6" height="0.7" fill="#fff" stroke="#111" stroke-width="1.15"/><path d="M494.94 194.9V227.8" stroke="#111" stroke-width="1.25"/><rect x="493.63" y="199.3" width="2.6" height="20.9" fill="#fff" stroke="#111" stroke-width="1.15"/><path d="M498.68 151.0V200.4" stroke="#111" stroke-width="1.25"/><rect x="497.38" y="189.1" width="2.6" height="6.1" fill="#fff" stroke="#111" stroke-width="1.15"/><path d="M502.43 169.0V196.0" stroke="#d4003a" stroke-width="1.25"/><rect x="500.62" y="176.1" width="3.6" height="18.0" fill="#d4003a"/><path d="M506.17 190.2V217.6" stroke="#d4003a" stroke-width="1.25"/><rect x="504.37" y="194.1" width="3.6" height="3.1" fill="#d4003a"/><path d="M509.92 184.7V218.4" stroke="#111" stroke-width="1.25"/><rect x="508.62" y="193.8" width="2.6" height="3.7" fill="#fff" stroke="#111" stroke-width="1.15"/><path d="M513.66 165.1V200.0" stroke="#111" stroke-width="1.25"/><rect x="512.36" y="176.6" width="2.6" height="15.4" fill="#fff" stroke="#111" stroke-width="1.15"/><path d="M517.40 167.4V187.0" stroke="#d4003a" stroke-width="1.25"/><rect x="515.61" y="171.4" width="3.6" height="6.2" fill="#d4003a"/><path d="M521.15 162.0V187.0" stroke="#111" stroke-width="1.25"/><rect x="519.35" y="171.4" width="3.6" height="4.7" fill="#111"/><path d="M524.89 173.7V225.4" stroke="#d4003a" stroke-width="1.25"/><rect x="523.10" y="176.8" width="3.6" height="44.7" fill="#d4003a"/><path d="M528.64 215.2V239.6" stroke="#111" stroke-width="1.25"/><rect x="527.34" y="219.2" width="2.6" height="2.5" fill="#fff" stroke="#111" stroke-width="1.15"/><path d="M532.38 211.7V281.4" stroke="#d4003a" stroke-width="1.25"/><rect x="530.59" y="217.0" width="3.6" height="54.8" fill="#d4003a"/><path d="M536.13 264.0V305.0" stroke="#d4003a" stroke-width="1.25"/><rect x="534.33" y="265.7" width="3.6" height="25.3" fill="#d4003a"/><path d="M539.88 281.4V305.8" stroke="#d4003a" stroke-width="1.25"/><rect x="538.58" y="292.4" width="2.6" height="3.3" fill="#fff" stroke="#d4003a" stroke-width="1.15"/><path d="M543.62 281.4V307.6" stroke="#d4003a" stroke-width="1.25"/><rect x="541.82" y="286.7" width="3.6" height="15.6" fill="#d4003a"/><path d="M547.37 273.6V300.6" stroke="#111" stroke-width="1.25"/><rect x="546.07" y="281.9" width="2.6" height="17.3" fill="#fff" stroke="#111" stroke-width="1.15"/><path d="M551.11 264.9V288.4" stroke="#111" stroke-width="1.25"/><rect x="549.81" y="272.3" width="2.6" height="6.9" fill="#fff" stroke="#111" stroke-width="1.15"/><path d="M554.86 270.1V293.6" stroke="#d4003a" stroke-width="1.25"/><rect x="553.06" y="272.7" width="3.6" height="5.3" fill="#d4003a"/><path d="M558.60 269.2V300.6" stroke="#111" stroke-width="1.25"/><rect x="557.30" y="274.1" width="2.6" height="3.4" fill="#fff" stroke="#111" stroke-width="1.15"/><path d="M562.34 258.7V279.0" stroke="#111" stroke-width="1.25"/><rect x="561.04" y="263.1" width="2.6" height="9.9" fill="#fff" stroke="#111" stroke-width="1.15"/><path d="M566.09 255.5V272.8" stroke="#d4003a" stroke-width="1.25"/><rect x="564.29" y="262.0" width="3.6" height="4.0" fill="#d4003a"/><path d="M569.83 257.0V275.0" stroke="#d4003a" stroke-width="1.25"/><rect x="568.03" y="259.4" width="3.6" height="9.4" fill="#d4003a"/><path d="M573.58 254.0V277.5" stroke="#d4003a" stroke-width="1.25"/><rect x="571.78" y="266.5" width="3.6" height="7.0" fill="#d4003a"/><path d="M577.32 272.0V284.5" stroke="#d4003a" stroke-width="1.25"/><rect x="575.52" y="276.7" width="3.6" height="7.0" fill="#d4003a"/><path d="M581.07 265.7V294.7" stroke="#111" stroke-width="1.25"/><rect x="579.77" y="270.1" width="2.6" height="23.3" fill="#fff" stroke="#111" stroke-width="1.15"/><path d="M584.81 254.0V268.8" stroke="#111" stroke-width="1.25"/><rect x="583.01" y="255.5" width="3.6" height="11.8" fill="#111"/><path d="M588.56 261.0V279.8" stroke="#111" stroke-width="1.25"/><rect x="587.26" y="263.9" width="2.6" height="2.9" fill="#fff" stroke="#111" stroke-width="1.15"/><path d="M592.30 263.4V277.5" stroke="#d4003a" stroke-width="1.25"/><rect x="590.50" y="265.7" width="3.6" height="11.0" fill="#d4003a"/><path d="M596.05 246.9V279.0" stroke="#111" stroke-width="1.25"/><rect x="594.75" y="250.5" width="2.6" height="23.3" fill="#fff" stroke="#111" stroke-width="1.15"/><path d="M599.79 235.1V286.1" stroke="#d4003a" stroke-width="1.25"/><rect x="598.00" y="250.0" width="3.6" height="30.6" fill="#d4003a"/><path d="M603.54 266.5V285.3" stroke="#111" stroke-width="1.25"/><rect x="602.24" y="267.6" width="2.6" height="11.7" fill="#fff" stroke="#111" stroke-width="1.15"/><path d="M607.28 261.5V312.6" stroke="#d4003a" stroke-width="1.25"/><rect x="605.49" y="270.9" width="3.6" height="39.8" fill="#d4003a"/></g>
<path d="M102 551.8L671.8 162" stroke="#333" stroke-width="1.25"/>
<path d="M102 551.8L731.7 207.7" stroke="#333" stroke-width="1.25"/>
<path d="M360.3 33.2L729 321.5" stroke="#d9456c" stroke-width="1.3"/>
<path d="M593.5 27V559" stroke="#111" stroke-width="1.2" stroke-dasharray="7.3 2.4"/>
<path d="M646 27V559" stroke="#6e6e6e" stroke-width="2" stroke-dasharray="7.3 2.4"/>
<rect x="47.5" y="27.5" width="679" height="532" fill="none" stroke="#b5b5b5" stroke-width="1"/>
<path d="M726 548.5H728M726 543.5H728M726 537.5H728M726 531.5H728M726 526.5H728M726 520.5H728M726 515.5H728M726 510.5H728M726 504.5H728M726 499.5H728M726 493.5H728M726 488.5H728M726 483.5H728M726 477.5H728M726 472.5H728M726 467.5H728M726 461.5H728M726 456.5H728M726 451.5H728M726 446.5H728M726 440.5H728M726 435.5H728M726 430.5H728M726 425.5H728M726 420.5H728M726 415.5H728M726 410.5H728M726 404.5H728M726 399.5H728M726 394.5H728M726 389.5H728M726 384.5H728M726 379.5H728M726 374.5H728M726 369.5H728M726 364.5H728M726 359.5H728M726 354.5H728M726 349.5H728M726 345.5H728M726 340.5H728M726 335.5H728M726 330.5H728M726 325.5H728M726 320.5H728M726 315.5H728M726 311.5H728M726 306.5H728M726 301.5H728M726 296.5H728M726 292.5H728M726 287.5H728M726 282.5H728M726 277.5H728M726 273.5H728M726 268.5H728M726 263.5H728M726 259.5H728M726 254.5H728M726 249.5H728M726 245.5H728M726 240.5H728M726 236.5H728M726 231.5H728M726 227.5H728M726 222.5H728M726 218.5H728M726 213.5H728M726 208.5H728M726 204.5H728M726 200.5H728M726 195.5H728M726 191.5H728M726 186.5H728M726 182.5H728M726 177.5H728M726 173.5H728M726 169.5H728M726 164.5H728M726 160.5H728M726 155.5H728M726 151.5H728M726 147.5H728M726 142.5H728M726 138.5H728M726 134.5H728M726 130.5H728M726 125.5H728M726 121.5H728M726 117.5H728M726 113.5H728M726 108.5H728M726 104.5H728M726 100.5H728M726 96.5H728M726 91.5H728M726 87.5H728M726 83.5H728M726 79.5H728M726 75.5H728M726 71.5H728M726 67.5H728M726 62.5H728M726 58.5H728M726 54.5H728M726 50.5H728M726 46.5H728M726 42.5H728M726 38.5H728M726 34.5H728M726 30.5H728" stroke="#c8c8c8" stroke-width="1"/>
<text x="729.8" y="540.6" font-size="10" fill="#222">14.4</text><path d="M726 537.5H729" stroke="#aaa" stroke-width="1"/><text x="729.8" y="518.6" font-size="10" fill="#222">14.6</text><path d="M726 515.5H729" stroke="#aaa" stroke-width="1"/><text x="729.8" y="497.0" font-size="10" fill="#222">14.8</text><path d="M726 493.5H729" stroke="#aaa" stroke-width="1"/><text x="729.8" y="475.6" font-size="10" fill="#222">15.0</text><path d="M726 472.5H729" stroke="#aaa" stroke-width="1"/><text x="729.8" y="454.5" font-size="10" fill="#222">15.2</text><path d="M726 451.5H729" stroke="#aaa" stroke-width="1"/><text x="729.8" y="433.7" font-size="10" fill="#222">15.4</text><path d="M726 430.5H729" stroke="#aaa" stroke-width="1"/><text x="729.8" y="413.2" font-size="10" fill="#222">15.6</text><path d="M726 410.5H729" stroke="#aaa" stroke-width="1"/><text x="729.8" y="392.9" font-size="10" fill="#222">15.8</text><path d="M726 389.5H729" stroke="#aaa" stroke-width="1"/><text x="729.8" y="372.8" font-size="10" fill="#222">16.0</text><path d="M726 369.5H729" stroke="#aaa" stroke-width="1"/><text x="729.8" y="353.1" font-size="10" fill="#222">16.2</text><path d="M726 349.5H729" stroke="#aaa" stroke-width="1"/><text x="729.8" y="333.5" font-size="10" fill="#222">16.4</text><path d="M726 330.5H729" stroke="#aaa" stroke-width="1"/><path d="M726 311.5H729" stroke="#aaa" stroke-width="1"/><text x="729.8" y="295.2" font-size="10" fill="#222">16.8</text><path d="M726 292.5H729" stroke="#aaa" stroke-width="1"/><path d="M726 273.5H729" stroke="#aaa" stroke-width="1"/><text x="729.8" y="257.7" font-size="10" fill="#222">17.2</text><path d="M726 254.5H729" stroke="#aaa" stroke-width="1"/><path d="M726 236.5H729" stroke="#aaa" stroke-width="1"/><text x="729.8" y="221.1" font-size="10" fill="#222">17.6</text><path d="M726 218.5H729" stroke="#aaa" stroke-width="1"/><text x="729.8" y="203.1" font-size="10" fill="#222">17.8</text><path d="M726 200.5H729" stroke="#aaa" stroke-width="1"/><text x="729.8" y="185.3" font-size="10" fill="#222">18.0</text><path d="M726 182.5H729" stroke="#aaa" stroke-width="1"/><text x="729.8" y="167.7" font-size="10" fill="#222">18.2</text><path d="M726 164.5H729" stroke="#aaa" stroke-width="1"/><text x="729.8" y="150.3" font-size="10" fill="#222">18.4</text><path d="M726 147.5H729" stroke="#aaa" stroke-width="1"/><text x="729.8" y="133.1" font-size="10" fill="#222">18.6</text><path d="M726 130.5H729" stroke="#aaa" stroke-width="1"/><text x="729.8" y="116.1" font-size="10" fill="#222">18.8</text><path d="M726 113.5H729" stroke="#aaa" stroke-width="1"/><text x="729.8" y="99.3" font-size="10" fill="#222">19.0</text><path d="M726 96.5H729" stroke="#aaa" stroke-width="1"/><text x="729.8" y="82.6" font-size="10" fill="#222">19.2</text><path d="M726 79.5H729" stroke="#aaa" stroke-width="1"/><text x="729.8" y="66.1" font-size="10" fill="#222">19.4</text><path d="M726 62.5H729" stroke="#aaa" stroke-width="1"/><text x="729.8" y="49.8" font-size="10" fill="#222">19.6</text><path d="M726 46.5H729" stroke="#aaa" stroke-width="1"/><text x="729.8" y="33.6" font-size="10" fill="#222">19.8</text><path d="M726 30.5H729" stroke="#aaa" stroke-width="1"/>
<path d="M724.5 238.5L728.5 233.2H756V243.7H728.5Z" fill="#fff" stroke="#2b2ba6" stroke-width="1.3"/><text x="729.5" y="242.1" font-size="10" font-weight="normal" fill="#111">17.37</text>
<path d="M724.5 275.5L728.5 270.3H756V280.8H728.5Z" fill="#fff" stroke="#dc4064" stroke-width="1.3"/><text x="729.5" y="279.1" font-size="10" font-weight="normal" fill="#111">16.97</text>
<path d="M724.5 310.6L728.5 305.4H756V315.9H728.5Z" fill="#fff" stroke="#222" stroke-width="1.3"/><text x="729.5" y="314.2" font-size="10" font-weight="bold" fill="#000">16.60</text>
<path d="M724.5 483.5L728.5 478.2H770V488.8H728.5Z" fill="#fff" stroke="#333" stroke-width="1.3"/><text x="729.5" y="487.1" font-size="10" font-weight="normal" fill="#111">10715300</text>
<text x="44" y="543.7" text-anchor="end" font-size="10" fill="#222">2.5M</text><path d="M44.5 540.5H47" stroke="#aaa"/><text x="44" y="526.4" text-anchor="end" font-size="10" fill="#222">5.0M</text><path d="M44.5 523.5H47" stroke="#aaa"/><text x="44" y="509.0" text-anchor="end" font-size="10" fill="#222">7.5M</text><path d="M44.5 506.5H47" stroke="#aaa"/><text x="44" y="491.7" text-anchor="end" font-size="10" fill="#222">10.0M</text><path d="M44.5 488.5H47" stroke="#aaa"/><text x="44" y="474.4" text-anchor="end" font-size="10" fill="#222">12.5M</text><path d="M44.5 471.5H47" stroke="#aaa"/><text x="44" y="457.1" text-anchor="end" font-size="10" fill="#222">15.0M</text><path d="M44.5 454.5H47" stroke="#aaa"/><text x="44" y="439.7" text-anchor="end" font-size="10" fill="#222">17.5M</text><path d="M44.5 436.5H47" stroke="#aaa"/><text x="44" y="422.4" text-anchor="end" font-size="10" fill="#222">20.0M</text><path d="M44.5 419.5H47" stroke="#aaa"/><text x="44" y="405.1" text-anchor="end" font-size="10" fill="#222">22.5M</text><path d="M44.5 402.5H47" stroke="#aaa"/>
<text x="116.9" y="569" text-anchor="middle" font-size="9.5" letter-spacing="0.5" fill="#222">Jun</text><text x="191.2" y="569" text-anchor="middle" font-size="9.5" letter-spacing="0.5" fill="#222">Jul</text><text x="273.5" y="569" text-anchor="middle" font-size="9.5" letter-spacing="0.5" fill="#222">Aug</text><text x="357.2" y="569" text-anchor="middle" font-size="9.5" letter-spacing="0.5" fill="#222">Sep</text><text x="432" y="569" text-anchor="middle" font-size="9.5" letter-spacing="0.5" fill="#222">Oct</text><text x="517.7" y="569" text-anchor="middle" font-size="9.5" letter-spacing="0.5" fill="#222">Nov</text><text x="593.4" y="569" text-anchor="middle" font-size="9.5" letter-spacing="0.5" fill="#222">Dec</text><text x="671" y="569.5" text-anchor="middle" font-size="10" font-weight="bold" fill="#111">2020</text>
<path d="M64 572.5h1M83 572.5h1M102 572.5h1M117 572.5h1M135 572.5h1M154 572.5h1M173 572.5h1M192 572.5h1M207 572.5h1M225 572.5h1M244 572.5h1M263 572.5h1M282 572.5h1M300 572.5h1M319 572.5h1M338 572.5h1M357 572.5h1M372 572.5h1M390 572.5h1M409 572.5h1M428 572.5h1M447 572.5h1M466 572.5h1M484 572.5h1M503 572.5h1M522 572.5h1M541 572.5h1M559 572.5h1M578 572.5h1M593 572.5h1M612 572.5h1M631 572.5h1M649 572.5h1M664 572.5h1M683 572.5h1M702 572.5h1M721 572.5h1" stroke="#bbb" stroke-width="1"/>
<path d="M47 560.5H726" stroke="#ddd" stroke-width="1" stroke-dasharray="1 2"/>
<text x="47" y="12.6" font-size="12.6" font-weight="bold" fill="#111">$SILVER</text>
<text x="101.5" y="12.4" font-size="10.1" fill="#222">Silver - Continuous Contract (EOD)</text>
<text x="266" y="12.3" font-size="8.5" letter-spacing="0.8" fill="#111" font-weight="bold">CME</text>
<text x="46.6" y="24.8" font-size="9.2" letter-spacing="0.45" fill="#111">6-Dec-2019</text>
<text x="308.6" y="24.3" font-size="10.5" font-weight="bold" fill="#111">Open</text>
<text x="340" y="24.3" font-size="9.6" fill="#222">17.02</text>
<text x="370.6" y="24.3" font-size="10.5" font-weight="bold" fill="#111">High</text>
<text x="397.2" y="24.3" font-size="9.6" fill="#222">17.12</text>
<text x="428.2" y="24.3" font-size="10.5" font-weight="bold" fill="#111">Low</text>
<text x="454.6" y="24.3" font-size="9.6" fill="#222">16.58</text>
<text x="486" y="24.3" font-size="10.5" font-weight="bold" fill="#111">Close</text>
<text x="519.3" y="24.3" font-size="9.6" fill="#222">16.60</text>
<text x="550.6" y="24.3" font-size="10.5" font-weight="bold" fill="#111">Volume</text>
<text x="595.8" y="24.3" font-size="9.6" fill="#222">10.7M</text>
<text x="629.2" y="24.3" font-size="10.5" font-weight="bold" fill="#111">Chg</text>
<text x="652.7" y="24.3" font-size="9.6" letter-spacing="0.28" fill="#222">-0.46 (-2.71%)</text>
<path d="M719.3 20.5H725.9L722.6 24Z" fill="#a00020"/>
<text x="640.5" y="12" font-size="9.9" letter-spacing="0.26" fill="#707070">&#169;StockCharts.com</text>
<g font-size="9.2">
<text x="61.7" y="37.3" font-size="9" letter-spacing="1.25" fill="#1a1a1a" stroke="#1a1a1a" stroke-width="0.25">$SILVER (Daily) 16.60</text>
<path d="M50 35.5h7" stroke="#333" stroke-width="5" stroke-dasharray="1.5 0.8"/>
<path d="M50 43.7h8" stroke="#1c1c96" stroke-width="1.8"/><text x="59.3" y="47.2" fill="#2424a0">MA(50) 17.37</text>
<path d="M50 53.2h8" stroke="#dc2a50" stroke-width="1.8"/><text x="59.3" y="56.7" fill="#d42048">MA(20) 16.97</text>
<path d="M50.5 67V62M52.5 67V60M54.5 67V61M56.5 67V63" stroke="#666" stroke-width="1.6"/><text x="59.8" y="67.1" fill="#555">Volume 10,715,300</text>
</g>
<defs><filter id="sh" x="-10%" y="-10%" width="120%" height="130%"><feGaussianBlur stdDeviation="0.9"/></filter></defs>
<rect x="63.5" y="86" width="70" height="23" fill="#999" filter="url(#sh)"/>
<rect x="61.5" y="83.5" width="71" height="23" fill="#fff" stroke="#8a8a8a" stroke-width="1"/>
<text x="65" y="99.5" font-size="14" font-weight="bold" fill="#cc0a3c">Sunshine</text>
<rect x="134.5" y="86" width="96.5" height="23.5" fill="#999" filter="url(#sh)"/>
<rect x="132.5" y="83.5" width="96" height="23.5" fill="#fff" stroke="#8a8a8a" stroke-width="1"/>
<text x="135.5" y="100.6" font-size="14.8" font-weight="bold" fill="#000">Profits.com</text>
<path d="M439 51H703V92H574.5L601 201.5L569.5 92H439Z" fill="#999" filter="url(#sh)"/>
<path d="M436.5 48.5H700.5V89.5H571.5L598.3 199.6L566.6 89.5H436.5Z" fill="#fff" stroke="#8a8a8a" stroke-width="1"/>
<text x="439.6" y="64.8" font-size="15" font-weight="bold" fill="#111">Silver topped almost exactly at the</text>
<text x="439.6" y="82.8" font-size="15" font-weight="bold" fill="#111">triangle-vertex-based reversal</text>
<path d="M465 398.5H559.5V421.5H465Z M554 398L611 320.5L561.5 398Z" fill="#999" filter="url(#sh)"/>
<path d="M462.5 395.5H551.4L608.4 318.1L558.2 395.5H556.5V418.8H462.5Z" fill="#fff" stroke="#8a8a8a" stroke-width="1"/>
<text x="465.4" y="412" font-size="15" font-weight="bold" letter-spacing="0.2" fill="#cc1a48">Breakdown</text></svg></body></html>
